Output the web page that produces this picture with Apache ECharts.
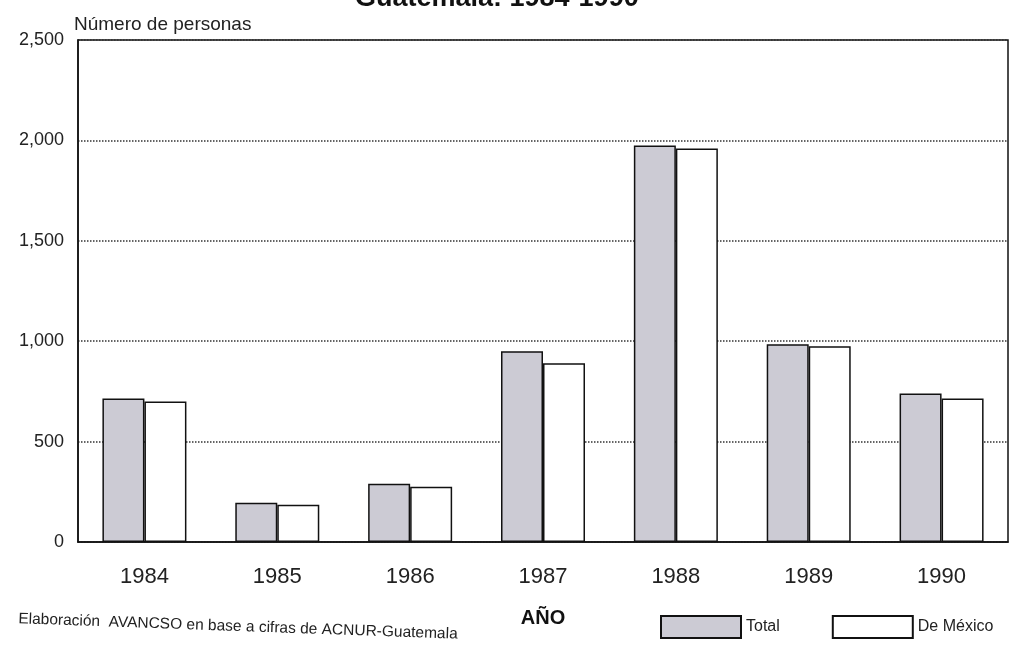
<!DOCTYPE html>
<html>
<head>
<meta charset="utf-8">
<script src="https://cdn.jsdelivr.net/npm/echarts@6/dist/echarts.min.js"></script>
<style>
html,body{margin:0;padding:0;background:#fff;}
#c{width:1012px;height:661px;}
</style>
</head>
<body>
<div id="c"></div>
<script>
var years = ['1984','1985','1986','1987','1988','1989','1990'];
var totalValues = [715, 195, 290, 950, 1975, 985, 740];
var mexicoValues = [700, 185, 275, 890, 1960, 975, 715];
var yTicks = [0, 500, 1000, 1500, 2000, 2500];

var font = '"Liberation Sans", Arial, sans-serif';
var chart = echarts.init(document.getElementById('c'));
chart.setOption({
  backgroundColor: '#ffffff',
  animation: false,
  title: [{
    text: 'Guatemala: 1984-1990',
    left: 350,
    top: -20,
    textStyle: {fontFamily: font, fontSize: 27, fontWeight: 'bold', color: '#111'}
  }],
  legend: {
    left: 655, top: 610,
    icon: 'rect',
    itemWidth: 80, itemHeight: 22, itemGap: 52,
    textStyle: {fontFamily: font, fontSize: 16, color: '#222'},
    data: ['Total', 'De México']
  },
  grid: {
    left: 78, right: 4, top: 40, bottom: 119,
    show: true, borderColor: '#111', borderWidth: 1.5, backgroundColor: 'transparent'
  },
  xAxis: {
    type: 'category',
    data: years,
    name: 'AÑO',
    nameLocation: 'middle',
    nameGap: 66,
    nameTextStyle: {fontFamily: font, fontSize: 20, fontWeight: 'bold', color: '#111'},
    axisLine: {lineStyle: {color: '#111', width: 1.5}},
    axisTick: {alignWithLabel: true, length: 9, lineStyle: {color: '#111', width: 1.5}},
    axisLabel: {fontFamily: font, fontSize: 22, color: '#222', margin: 24}
  },
  yAxis: {
    type: 'value',
    min: 0, max: 2500, interval: 500,
    name: 'Número de personas',
    nameLocation: 'end',
    nameGap: 6,
    nameTextStyle: {fontFamily: font, fontSize: 19, color: '#222', align: 'left', padding: [0, 0, 0, -4]},
    axisLine: {show: true, lineStyle: {color: '#111', width: 1.5}},
    axisTick: {show: false},
    axisLabel: {
      fontFamily: font, fontSize: 18, color: '#222', margin: 14,
      formatter: function (v) { return yTicks.indexOf(v) >= 0 ? v.toLocaleString('en-US') : ''; }
    },
    splitLine: {show: true, lineStyle: {type: 'dotted', color: '#333', width: 1.5}}
  },
  series: [{
    name: 'Total',
    type: 'bar',
    data: totalValues,
    barWidth: 42,
    barGap: '0%',
    itemStyle: {color: '#cccbd4', borderColor: '#111', borderWidth: 1.5}
  }, {
    name: 'De México',
    type: 'bar',
    data: mexicoValues,
    barWidth: 42,
    itemStyle: {color: '#ffffff', borderColor: '#111', borderWidth: 1.5}
  }],
  graphic: [{
    type: 'text',
    left: 18, top: 611,
    rotation: -0.035,
    style: {
      text: 'Elaboración  AVANCSO en base a cifras de ACNUR-Guatemala',
      fontFamily: font, fontSize: 15.5, fill: '#222'
    }
  }]
});
</script>
</body>
</html>
